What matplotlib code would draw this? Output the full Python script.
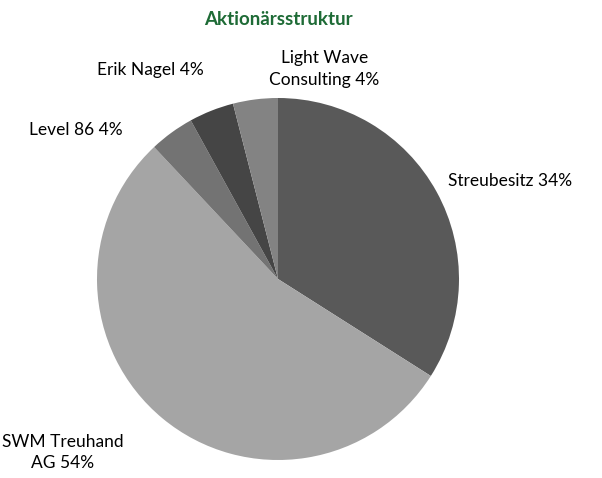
import matplotlib
matplotlib.use("Agg")
import matplotlib.pyplot as plt

labels = ["Streubesitz 34%", "SWM Treuhand\nAG 54%", "Level 86 4%", "Erik Nagel 4%", "Light Wave\nConsulting 4%"]
values = [34, 54, 4, 4, 4]
colors = ["#595959", "#a5a5a5", "#737373", "#454545", "#838383"]
label_pos = [(1.282, 0.541), (-1.188, -0.96), (-1.116, 0.823), (-0.707, 1.155), (0.255, 1.16)]
title = "Aktionärsstruktur"

plt.rcParams['font.family'] = ['Lato', 'DejaVu Sans']
fig = plt.figure(figsize=(6.02, 4.78), dpi=100)
ax = fig.add_axes([0, 0, 1, 1])
ax.pie(values, colors=colors, startangle=90, counterclock=False, radius=1.0,
       wedgeprops=dict(linewidth=0))
ax.set_aspect('auto')
ax.set_xlim(-278/181, (602-278)/181)
ax.set_ylim(-(478-279)/181, 279/181)
ax.axis('off')
for lab, (x, y) in zip(labels, label_pos):
    ax.text(x, y, lab, ha='center', va='center', fontsize=12.5, color='#000000', linespacing=1.4)
ax.text(0, 1.431, title, ha='center', va='center', fontsize=13.5, fontweight='bold', color='#1e6b36')
fig.savefig("out.png", dpi=100)
